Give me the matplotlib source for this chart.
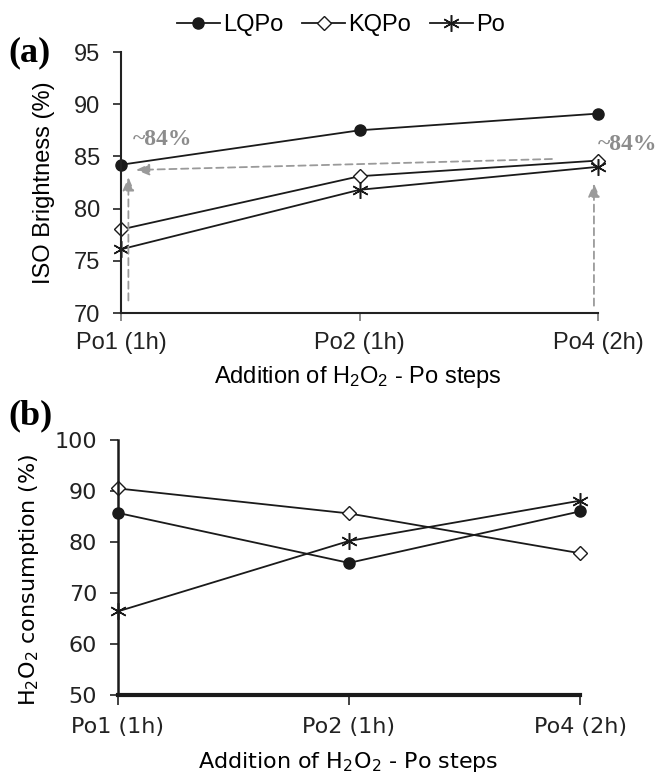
import numpy as np
import matplotlib
matplotlib.use("Agg")
import matplotlib.pyplot as plt

# values
steps = ['Po1 (1h)', 'Po2 (1h)', 'Po4 (2h)']
series = ['LQPo', 'KQPo', 'Po']

bright_lqpo = [84.2, 87.5, 89.1]
bright_kqpo = [78.0, 83.1, 84.6]
bright_po = [76.1, 81.8, 84.0]

cons_lqpo = [85.7, 75.9, 86.0]
cons_kqpo = [90.5, 85.6, 77.8]
cons_po = [66.4, 80.2, 88.1]

W, H = 662, 776
LINE = '#1a1a1a'
GREY = '#9a9a9a'
plt.rcParams['mathtext.fontset'] = 'custom'
plt.rcParams['mathtext.rm'] = 'Liberation Sans'
plt.rcParams['mathtext.default'] = 'rm'

styles = {
    'LQPo': dict(marker='o', ms=8, mfc=LINE, mec=LINE),
    'KQPo': dict(marker='D', ms=7, mfc='white', mec=LINE, mew=1.0),
    'Po': dict(marker=(6, 2, 0), ms=12, mfc=LINE, mec=LINE, mew=1.1),
}

fig = plt.figure(figsize=(W / 100, H / 100), dpi=100)

def box(l, r, t, b):
    return [l / W, 1 - b / H, (r - l) / W, (b - t) / H]

x = np.arange(len(steps))

# ---- panel (a)
ax1 = fig.add_axes(box(121, 598, 52, 313))
fa = dict(family='Liberation Sans', size=17)
for name, vals in zip(series, [bright_lqpo, bright_kqpo, bright_po]):
    ax1.plot(x, vals, color=LINE, lw=1.3, label=name, clip_on=False, **styles[name])
ax1.set_xlim(0, 2)
ax1.set_ylim(70, 95)
ax1.set_yticks(np.arange(70, 96, 5))
ax1.set_xticks(x)
ax1.set_xticklabels(steps, **fa)
for t in ax1.get_yticklabels():
    t.set_fontproperties(matplotlib.font_manager.FontProperties(**fa))
ax1.tick_params(axis='y', length=6, width=1.2, pad=9, colors='#222222')
ax1.tick_params(axis='x', length=6, width=1.2, pad=8, colors='#222222', color='#777777')
for s in ['top', 'right']:
    ax1.spines[s].set_visible(False)
for s in ['left', 'bottom']:
    ax1.spines[s].set_linewidth(1.5)
    ax1.spines[s].set_color('#222222')

# dashed arrows and ~84% notes
arr = dict(arrowstyle='-|>,head_length=0.8,head_width=0.35', color=GREY, lw=1.3,
           linestyle=(0, (4, 2.5)), shrinkA=0, shrinkB=0)
ax1.annotate('', xy=(0.031, 83.0), xytext=(0.031, 71.2), arrowprops=arr, annotation_clip=False)
ax1.annotate('', xy=(1.983, 82.4), xytext=(1.983, 70.7), arrowprops=arr, annotation_clip=False)
ax1.annotate('', xy=(0.063, 83.7), xytext=(1.807, 84.75), arrowprops=arr, annotation_clip=False)
note = dict(family='Liberation Serif', size=17, weight='bold', color='#8c8c8c', va='center')
ax1.text(0.05, 86.6, '~84%', ha='left', clip_on=False, **note)
ax1.text(2.0, 86.1, '~84%', ha='left', clip_on=False, **note)

fig.text(44 / W, 1 - 183 / H, 'ISO Brightness (%)', rotation=90, ha='center', va='center', **fa)
fig.text(358 / W, 1 - 377 / H, r'Addition of H$_2$O$_2$ - Po steps', ha='center', va='center', **fa)
fig.text(8 / W, 1 - 53 / H, '(a)', family='Liberation Serif', weight='bold', size=26,
         ha='left', va='center')

h, l = ax1.get_legend_handles_labels()
fig.legend(h, l, loc='center', bbox_to_anchor=(341 / W, 1 - 25 / H), ncol=3, frameon=False,
           prop=dict(family='Liberation Sans', size=17), handlelength=1.8, handletextpad=0.15,
           columnspacing=0.8)

# ---- panel (b)
ax2 = fig.add_axes(box(118, 580, 440, 695))
fb = dict(family='DejaVu Sans', size=16)
for name, vals in zip(series, [cons_lqpo, cons_kqpo, cons_po]):
    ax2.plot(x, vals, color=LINE, lw=1.3, clip_on=False, **styles[name])
ax2.set_xlim(0, 2)
ax2.set_ylim(50, 100)
ax2.set_yticks(np.arange(50, 101, 10))
ax2.set_xticks(x)
ax2.set_xticklabels(steps, **fb)
for t in ax2.get_yticklabels():
    t.set_fontproperties(matplotlib.font_manager.FontProperties(**fb))
ax2.tick_params(axis='y', length=6, width=1.2, pad=9, colors='#222222')
ax2.tick_params(axis='x', length=7, width=1.2, pad=9, colors='#222222')
for s in ['top', 'right']:
    ax2.spines[s].set_visible(False)
ax2.spines['left'].set_linewidth(1.8)
ax2.spines['bottom'].set_linewidth(3.0)
for s in ['left', 'bottom']:
    ax2.spines[s].set_color('#1a1a1a')

fig.text(29 / W, 1 - 580 / H, r'H$_2$O$_2$ consumption (%)', rotation=90, ha='center',
         va='center', math_fontfamily='dejavusans', **fb)
fig.text(348 / W, 1 - 762 / H, r'Addition of H$_2$O$_2$ - Po steps', ha='center', va='center',
         math_fontfamily='dejavusans', **fb)
fig.text(8 / W, 1 - 416 / H, '(b)', family='Liberation Serif', weight='bold', size=26,
         ha='left', va='center')

fig.savefig('out.png', dpi=100)
